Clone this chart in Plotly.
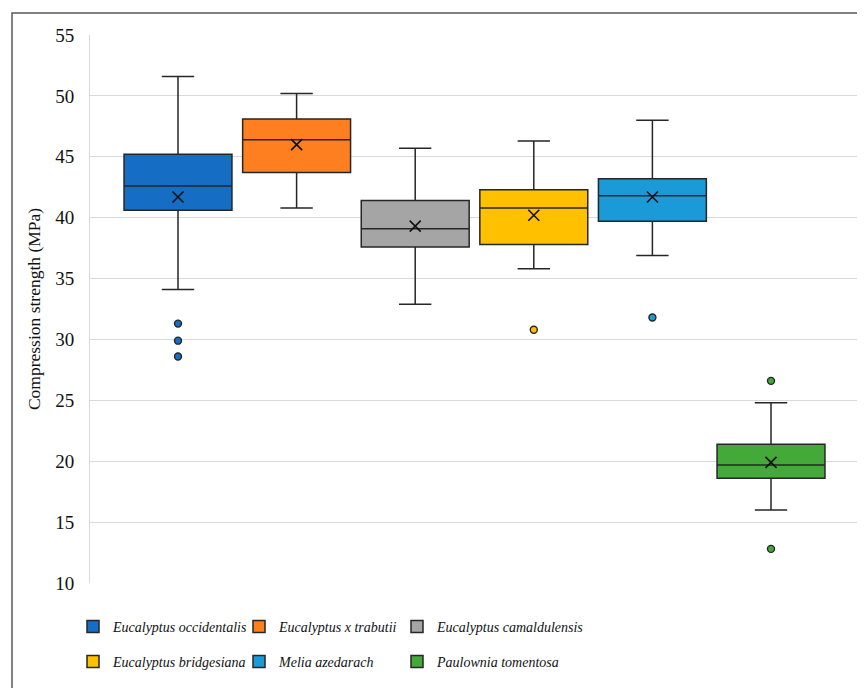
import plotly.graph_objects as go

species = ["Eucalyptus occidentalis", "Eucalyptus x trabutii", "Eucalyptus camaldulensis",
           "Eucalyptus bridgesiana", "Melia azedarach", "Paulownia tomentosa"]
colors = ["#156DC4", "#FD7F20", "#A5A5A5", "#FFC000", "#1A9BD7", "#43AA3A"]
q1 = [40.6, 43.7, 37.6, 37.8, 39.7, 18.6]
median = [42.6, 46.4, 39.1, 40.8, 41.8, 19.7]
q3 = [45.2, 48.1, 41.4, 42.3, 43.2, 21.4]
lowerfence = [34.1, 40.8, 32.9, 35.8, 36.9, 16.0]
upperfence = [51.6, 50.2, 45.7, 46.3, 48.0, 24.8]
mean = [41.7, 46.0, 39.3, 40.2, 41.7, 19.9]
outliers = [[31.3, 29.9, 28.6], [], [], [30.8], [31.8], [26.6, 12.8]]
yticks = [10, 15, 20, 25, 30, 35, 40, 45, 50, 55]

FONT = "Liberation Serif"
OFF = 8  # default page body margin
W, H = 865 - OFF, 688 - OFF
# plot area in page pixels: x 90..859, y 35..583
L = 90 - OFF
T = 35 - OFF
R = W - (859 - OFF)
B = H - (583 - OFF)
pw, ph = W - L - R, H - T - B


def px(xp):
    return (xp - OFF - L) / pw


def py(yp):
    return (H - B - (yp - OFF)) / ph


legend_names = ["legend", "legend2", "legend3", "legend4", "legend5", "legend6"]
legend_x = [73, 239, 397, 73, 239, 397]
legend_y = [627, 627, 627, 662, 662, 662]

fig = go.Figure()
for i, name in enumerate(species):
    fig.add_trace(go.Box(
        x=[i], q1=[q1[i]], median=[median[i]], q3=[q3[i]],
        lowerfence=[lowerfence[i]], upperfence=[upperfence[i]],
        name=name, fillcolor=colors[i], line=dict(color="#262626", width=1.5),
        width=0.91, whiskerwidth=0.3, boxpoints=False,
        legend=legend_names[i], hoverinfo="skip",
    ))
    fig.add_trace(go.Scatter(
        x=[i], y=[mean[i]], mode="markers", showlegend=False, hoverinfo="skip",
        marker=dict(symbol="x-thin", size=11, line=dict(width=1.6, color="#111")),
    ))
    if outliers[i]:
        fig.add_trace(go.Scatter(
            x=[i] * len(outliers[i]), y=outliers[i], mode="markers", showlegend=False,
            hoverinfo="skip",
            marker=dict(symbol="circle", size=7, color=colors[i], line=dict(width=1.4, color="#262626")),
        ))

layout_legends = {}
for n, lx, ly in zip(legend_names, legend_x, legend_y):
    layout_legends[n] = dict(orientation="h", x=px(lx), xanchor="left", y=py(ly), yanchor="middle",
                             font=dict(family=FONT, size=14, style="italic", color="#111"),
                             bgcolor="rgba(0,0,0,0)")

fig.update_layout(
    width=W, height=H,
    margin=dict(l=L, r=R, t=T, b=B, autoexpand=False),
    paper_bgcolor="white", plot_bgcolor="white",
    font=dict(family=FONT, size=19, color="#111"),
    boxmode="overlay",
    showlegend=True,
    xaxis=dict(range=[-0.742, 5.742], showgrid=False, showticklabels=False, zeroline=False,
               showline=False, ticks=""),
    yaxis=dict(range=[10, 55], tickvals=yticks, showgrid=True, gridcolor="#D9D9D9", gridwidth=1,
               zeroline=False, showline=True, linecolor="#D9D9D9", linewidth=1, ticks="",
               ticklabelstandoff=11, automargin=False,
               title=dict(text="Compression strength (MPa)", font=dict(size=17.5), standoff=10)),
    shapes=[dict(type="rect", xref="paper", yref="paper", x0=px(12), x1=px(880), y0=py(710), y1=py(13),
                 line=dict(color="#595959", width=1.5), fillcolor="rgba(0,0,0,0)", layer="below")],
    **layout_legends,
)

fig.write_html("out.html")
